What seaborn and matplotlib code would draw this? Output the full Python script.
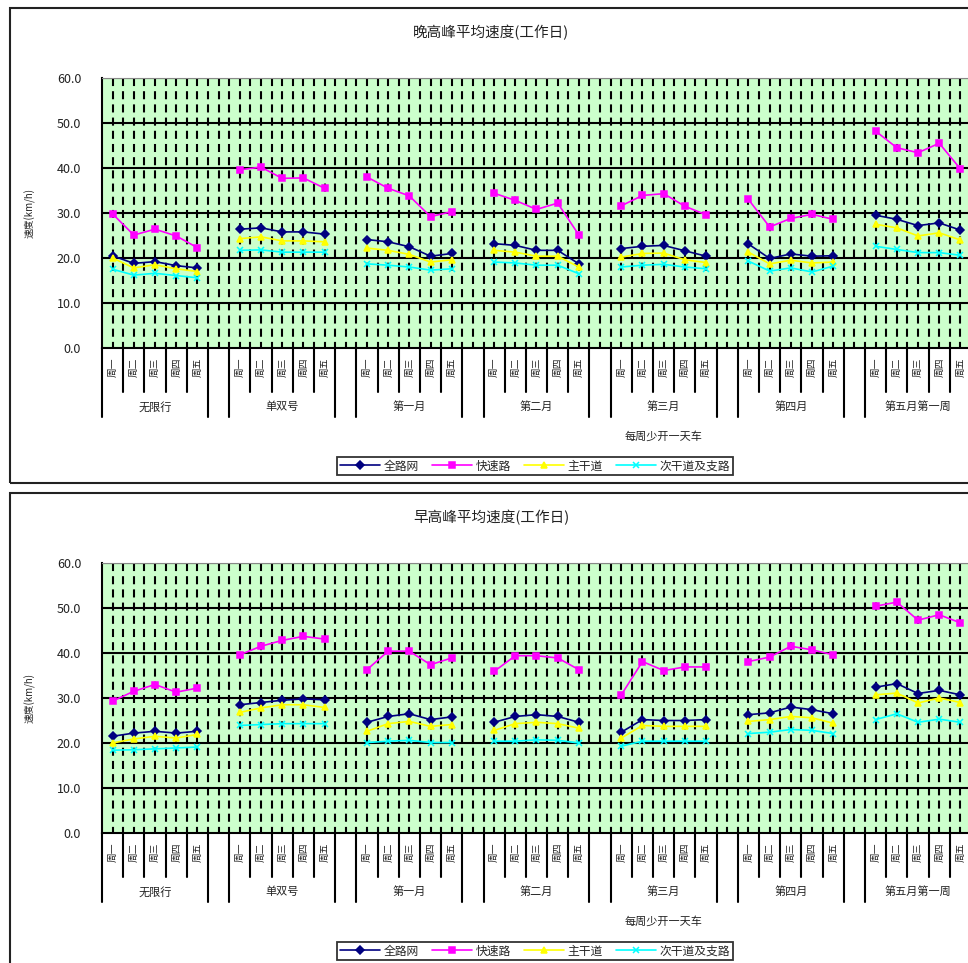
import numpy as np
import pandas as pd
import matplotlib
matplotlib.use("Agg")
import matplotlib.pyplot as plt
import seaborn as sns
from matplotlib.lines import Line2D
from matplotlib.patches import Rectangle

GROUPS = ["无限行", "单双号", "第一月", "第二月", "第三月", "第四月", "第五月第一周"]
DAYS = ["周一", "周二", "周三", "周四", "周五"]
SERIES = ["全路网", "快速路", "主干道", "次干道及支路"]
COLORS = {"全路网": "#000080", "快速路": "#FF00FF", "主干道": "#FFFF00", "次干道及支路": "#00FFFF"}
MARKERS = {"全路网": "D", "快速路": "s", "主干道": "^", "次干道及支路": "x"}
EXTRA_LABEL = "每周少开一天车"

# 晚高峰 (evening peak), one row per group, Mon..Fri
PM_ALL = [[20.5, 18.8, 19.2, 18.3, 17.8], [26.4, 26.7, 25.8, 25.8, 25.3], [24.1, 23.6, 22.5, 20.4, 21.0],
          [23.2, 22.8, 21.7, 21.7, 18.7], [22.1, 22.6, 22.8, 21.6, 20.4], [23.1, 19.9, 20.9, 20.4, 20.5],
          [29.5, 28.6, 27.2, 27.8, 26.2]]
PM_EXPRESS = [[29.8, 25.1, 26.4, 24.9, 22.3], [39.6, 40.2, 37.7, 37.8, 35.5], [38.0, 35.5, 33.8, 29.2, 30.3],
              [34.4, 32.8, 30.8, 32.2, 25.1], [31.6, 33.9, 34.3, 31.5, 29.6], [33.0, 26.9, 28.8, 29.7, 28.6],
              [48.2, 44.5, 43.4, 45.5, 39.8]]
PM_MAIN = [[20.0, 17.8, 18.5, 17.6, 17.0], [24.3, 24.7, 23.8, 23.8, 23.6], [22.2, 21.7, 20.8, 19.1, 19.6],
           [21.7, 21.3, 20.4, 20.4, 18.0], [20.2, 21.0, 21.1, 19.6, 19.0], [21.3, 18.7, 19.5, 18.9, 19.1],
           [27.5, 26.7, 24.9, 25.6, 24.0]]
PM_MINOR = [[17.5, 16.2, 16.6, 16.1, 15.6], [21.7, 21.8, 21.3, 21.3, 21.3], [18.7, 18.4, 18.0, 17.3, 17.6],
            [19.1, 18.9, 18.4, 18.4, 16.5], [18.0, 18.4, 18.6, 18.0, 17.6], [19.3, 17.1, 17.8, 16.9, 18.2],
            [22.6, 21.9, 21.2, 21.2, 20.6]]

# 早高峰 (morning peak)
AM_ALL = [[21.5, 22.2, 22.6, 22.2, 22.6], [28.5, 29.0, 29.5, 29.8, 29.6], [24.6, 25.9, 26.5, 25.2, 25.8],
          [24.6, 25.9, 26.3, 25.9, 24.6], [22.4, 25.2, 25.0, 25.0, 25.2], [26.3, 26.7, 28.0, 27.4, 26.5],
          [32.4, 33.2, 31.0, 31.7, 30.7]]
AM_EXPRESS = [[29.3, 31.5, 33.0, 31.3, 32.2], [39.6, 41.5, 42.8, 43.7, 43.1], [36.3, 40.4, 40.4, 37.4, 38.9],
              [35.9, 39.4, 39.4, 38.9, 36.3], [30.7, 38.1, 36.1, 36.9, 36.9], [38.1, 39.1, 41.5, 40.7, 39.6],
              [50.4, 51.3, 47.3, 48.5, 46.7]]
AM_MAIN = [[20.0, 20.9, 21.5, 21.1, 21.9], [26.8, 27.8, 28.5, 28.5, 27.9], [22.6, 24.3, 24.8, 23.7, 24.1],
           [22.8, 24.3, 24.6, 24.3, 23.3], [21.1, 23.9, 23.7, 23.7, 23.7], [24.8, 25.2, 25.9, 25.6, 24.4],
           [30.7, 31.1, 28.9, 30.0, 29.0]]
AM_MINOR = [[18.4, 18.5, 18.7, 18.9, 19.1], [23.9, 24.1, 24.3, 24.3, 24.3], [20.1, 20.4, 20.6, 20.1, 20.1],
            [20.4, 20.4, 20.7, 20.6, 20.0], [19.3, 20.4, 20.4, 20.4, 20.4], [22.1, 22.4, 23.0, 22.8, 22.1],
            [25.2, 26.5, 24.6, 25.3, 24.6]]

W, H = 968, 963


def long_frame(series_values):
    rows = []
    for name, vals in zip(SERIES, series_values):
        for g, grp in enumerate(GROUPS):
            for i, day in enumerate(DAYS):
                rows.append({"x": g * 6 + i, "speed": vals[g][i], "series": name, "group": grp})
    return pd.DataFrame(rows)


def fx(px):
    return px / W


def fy(py):
    return 1 - py / H


def draw_panel(fig, top, title, series_values):
    # top = pixel y of the panel border top
    ax = fig.add_axes([fx(102), fy(top + 340), fx(971 - 102), 270 / H])
    ax.set_facecolor("#CCFFCC")
    ax.set_xlim(-0.5, 40.5)
    ax.set_ylim(0, 60)

    # dashed vertical grid every half category
    ax.vlines(np.arange(0, 40.51, 0.5), 60, 0, colors="black", linewidth=1.5,
              linestyles=(0, (5.8, 3.7)), zorder=1)
    for yv in range(10, 61, 10):
        ax.axhline(yv, color="black", linewidth=1.5, zorder=1.5)

    df = long_frame(series_values)
    sizes = {"全路网": 4, "快速路": 4.5, "主干道": 4.5, "次干道及支路": 4.5}
    for name in SERIES:
        sns.lineplot(data=df[df["series"] == name], x="x", y="speed", units="group",
                     estimator=None, color=COLORS[name], marker=MARKERS[name],
                     markeredgecolor=COLORS[name], linewidth=1.2, markersize=sizes[name],
                     markeredgewidth=1.1, ax=ax, zorder=3)

    ax.set_xlabel("")
    ax.set_ylabel("")
    ax.set_yticks(range(0, 61, 10))
    ax.set_yticklabels([f"{v:.1f}" for v in range(0, 61, 10)], fontsize=9, color="#222222")
    ax.tick_params(axis="y", length=3, width=1.2, pad=12, direction="out")

    xt = [g * 6 + i for g in range(len(GROUPS)) for i in range(len(DAYS))]
    ax.set_xticks(xt)
    ax.set_xticklabels(DAYS * len(GROUPS), rotation=90, fontsize=7, color="#222222")
    ax.tick_params(axis="x", length=0, pad=7)

    for s in ["left", "bottom"]:
        ax.spines[s].set_color("black")
        ax.spines[s].set_linewidth(1.5)
    ax.spines["top"].set_color("#888888")
    ax.spines["top"].set_linewidth(0.8)
    ax.spines["right"].set_visible(False)

    # multi-level category axis
    tr = ax.get_xaxis_transform()
    lvl1 = -44 / 270
    lvl2 = -69 / 270
    for g, grp in enumerate(GROUPS):
        x0, x1 = g * 6 - 0.5, g * 6 + 4.5
        for xb in (x0, x1):
            ax.plot([xb, xb], [0, lvl2], transform=tr, color="black", lw=1.5, clip_on=False)
        for k in range(1, 5):
            xb = x0 + k
            ax.plot([xb, xb], [0, lvl1], transform=tr, color="black", lw=1.5, clip_on=False)
        ax.text((x0 + x1) / 2, -59 / 270, grp, transform=tr, ha="center", va="center",
                fontsize=8, color="#222222")
    ax.text((2 * 6 - 0.5 + 6 * 6 + 4.5) / 2, -88 / 270, EXTRA_LABEL, transform=tr,
            ha="center", va="center", fontsize=8, color="#222222")

    fig.text(fx(30), fy(top + 205), "速度(km/h)", rotation=90, ha="center", va="center",
             fontsize=7, color="#222222")
    fig.text(fx(491), fy(top + 25), title, ha="center", va="center", fontsize=10.5, color="#222222")

    handles = [Line2D([], [], color=COLORS[s], marker=MARKERS[s], markersize=4, lw=1.2,
                      markeredgecolor=COLORS[s], markeredgewidth=1.1) for s in SERIES]
    leg = fig.legend(handles, SERIES, loc="center", bbox_to_anchor=(fx(535), fy(top + 458)),
                     ncol=4, frameon=True, fancybox=False, fontsize=8.5, handlelength=3.4,
                     columnspacing=1.1, handletextpad=0.3, borderpad=0.25, borderaxespad=0)
    leg.get_frame().set_edgecolor("black")
    leg.get_frame().set_linewidth(1.3)

    fig.patches.append(Rectangle((fx(10), fy(top + 475)), 1.2, 475 / H, transform=fig.transFigure,
                                 fill=False, edgecolor="#222222", linewidth=1.5))
    return ax


sns.set_style("white")
plt.rcParams["font.family"] = ["Noto Sans CJK SC", "DejaVu Sans"]
plt.rcParams["lines.scale_dashes"] = False

fig = plt.figure(figsize=(W / 100, H / 100), dpi=100)
fig.patch.set_facecolor("white")

draw_panel(fig, 8, "晚高峰平均速度(工作日)", [PM_ALL, PM_EXPRESS, PM_MAIN, PM_MINOR])
draw_panel(fig, 493, "早高峰平均速度(工作日)", [AM_ALL, AM_EXPRESS, AM_MAIN, AM_MINOR])

fig.savefig("out.png", dpi=100)
